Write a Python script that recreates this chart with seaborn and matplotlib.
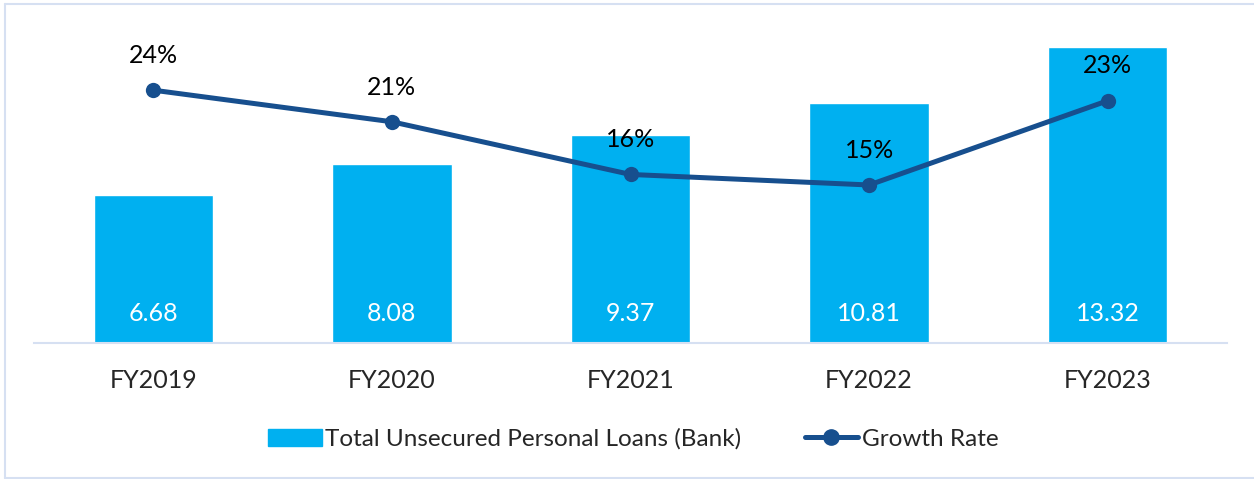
import matplotlib.pyplot as plt
import seaborn as sns
import pandas as pd
from matplotlib.lines import Line2D
from matplotlib.patches import Patch

# data
years = ['FY2019', 'FY2020', 'FY2021', 'FY2022', 'FY2023']
loans = [6.68, 8.08, 9.37, 10.81, 13.32]
growth = [24, 21, 16, 15, 23]

df = pd.DataFrame({'Year': years, 'Loans': loans, 'Growth': growth})

bar_color = '#00B0F0'
line_color = '#174F8E'
edge_color = '#D6E0F2'

sns.set_style('white')
plt.rcParams['font.family'] = ['Lato', 'DejaVu Sans']

fig = plt.figure(figsize=(12.54, 4.79), dpi=100)
ax = fig.add_axes([0.0271, 0.2839, 0.9514, 0.695])

sns.barplot(data=df, x='Year', y='Loans', color=bar_color, width=0.5,
            saturation=1, ax=ax)
ax.set_xlim(-0.5, 4.5)
ax.set_ylim(0, 15)
for i, v in enumerate(loans):
    ax.annotate(f'{v:.2f}', (i, 0), xytext=(0, 21), textcoords='offset points',
                ha='center', va='center', color='white', fontsize=18)

ax2 = ax.twinx()
sns.lineplot(x=range(len(years)), y=growth, color=line_color, linewidth=3.6,
             marker='o', markersize=11, markeredgewidth=0, ax=ax2)
ax2.set_ylim(0, 31.6)
for i, g in enumerate(growth):
    ax2.annotate(f'{g}%', (i, g), xytext=(0, 25), textcoords='offset points',
                 ha='center', va='center', color='black', fontsize=18)

for a in (ax, ax2):
    a.set_yticks([])
    a.set_ylabel('')
    for s in ['top', 'right', 'left']:
        a.spines[s].set_visible(False)
ax2.spines['bottom'].set_visible(False)
ax.spines['bottom'].set_color(edge_color)
ax.spines['bottom'].set_linewidth(1.5)
ax.set_xlabel('')
ax.tick_params(axis='x', length=0, pad=19, labelsize=18)

handles = [Patch(color=bar_color),
           Line2D([0], [0], color=line_color, linewidth=3.6, marker='o', markersize=11)]
fig.legend(handles, ['Total Unsecured Personal Loans (Bank)', 'Growth Rate'],
           loc='center', bbox_to_anchor=(0.505, 0.083), ncol=2, frameon=False,
           fontsize=17.5, handlelength=2.2, handletextpad=0.15, columnspacing=2.6)

# outer frame
fig.add_artist(Line2D([0.004, 0.004], [0.003, 0.992], color=edge_color, lw=1.5))
fig.add_artist(Line2D([0.004, 1.0], [0.992, 0.992], color=edge_color, lw=1.5))
fig.add_artist(Line2D([0.004, 1.0], [0.003, 0.003], color=edge_color, lw=1.5))

fig.savefig('out.png', dpi=100)
